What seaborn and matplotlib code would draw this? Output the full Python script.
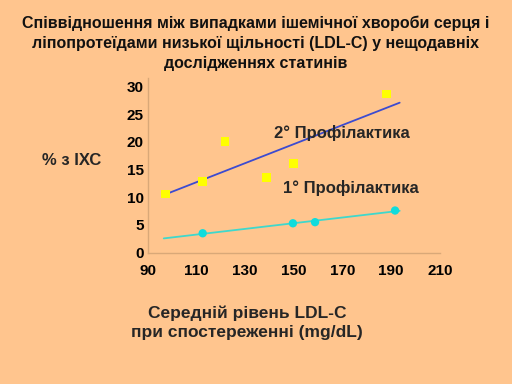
import numpy as np
import pandas as pd
import matplotlib
matplotlib.use("Agg")
import matplotlib.pyplot as plt
import seaborn as sns

# Secondary prevention trials (LDL-C mg/dL, % CHD events)
secondary_ldl = [97.3, 112.5, 121.6, 138.8, 149.9, 188.0]
secondary_chd = [10.6, 12.8, 20.0, 13.6, 16.1, 28.6]
# Primary prevention trials
primary_ldl = [112.5, 149.6, 158.7, 191.6]
primary_chd = [3.5, 5.3, 5.5, 7.6]
# range over which trend lines are drawn
trend_range = [96.5, 193.5]

x_ticks = [90, 110, 130, 150, 170, 190, 210]
y_ticks = [0, 5, 10, 15, 20, 25, 30]

title = ("Співвідношення між випадками ішемічної хвороби серця і\n"
         "ліпопротеїдами низької щільності (LDL-C) у нещодавніх\n"
         "дослідженнях статинів")
label_secondary = "2° Профілактика"
label_primary = "1° Профілактика"
x_label = "Середній рівень LDL-C\nпри спостереженні (mg/dL)"
y_label = "% з ІХС"

bg = "#FFC58E"

sns.set_theme(style="white")
plt.rcParams["font.family"] = ["Liberation Sans", "DejaVu Sans"]
plt.rcParams["font.weight"] = "bold"

fig = plt.figure(figsize=(5.12, 3.84), dpi=100, facecolor=bg)
ax = fig.add_axes([0.289, 0.342, 0.570, 0.455])
ax.set_facecolor(bg)

sec = pd.DataFrame({"ldl": secondary_ldl, "chd": secondary_chd})
pri = pd.DataFrame({"ldl": primary_ldl, "chd": primary_chd})

xs = np.array(trend_range)
k2, b2 = np.polyfit(sec["ldl"], sec["chd"], 1)
k1, b1 = np.polyfit(pri["ldl"], pri["chd"], 1)
sns.lineplot(x=xs, y=k2 * xs + b2, color="#3C4BD0", lw=1.3, ax=ax, zorder=2)
sns.lineplot(x=xs, y=k1 * xs + b1, color="#3FD8CC", lw=1.3, ax=ax, zorder=2)

sns.scatterplot(data=sec, x="ldl", y="chd", marker="s", s=38, color="#FFFF00",
                edgecolor="none", ax=ax, zorder=3)
sns.scatterplot(data=pri, x="ldl", y="chd", marker="o", s=36, color="#10DCDC",
                edgecolor="none", ax=ax, zorder=3)

ax.set_xlim(90, 210)
ax.set_ylim(0, 31.5)
ax.set_xticks(x_ticks)
ax.set_yticks(y_ticks)
ax.tick_params(axis="x", labelsize=11, pad=8, length=0, colors="black")
ax.tick_params(axis="y", labelsize=11, pad=3, length=0, colors="black")
for t in ax.get_xticklabels() + ax.get_yticklabels():
    t.set_fontweight("bold")

for s in ["top", "right"]:
    ax.spines[s].set_visible(False)
for s in ["left", "bottom"]:
    ax.spines[s].set_color("#D9A878")
    ax.spines[s].set_linewidth(1.0)

ax.set_xlabel("")
ax.set_ylabel("")

ax.text(142, 21.6, label_secondary, fontsize=12, fontweight="bold", ha="left", va="center")
ax.text(145.5, 11.7, label_primary, fontsize=12, fontweight="bold", ha="left", va="center")

fig.text(0.5, 0.888, title, ha="center", va="center", fontsize=11.5,
         fontweight="bold", linespacing=1.42, color="#111111")
fig.text(0.482, 0.159, x_label, ha="center", va="center", fontsize=12.5,
         fontweight="bold", linespacing=1.3)
fig.text(0.14, 0.583, y_label, ha="center", va="center", fontsize=12,
         fontweight="bold")

fig.savefig("out.png", dpi=100, facecolor=bg)
